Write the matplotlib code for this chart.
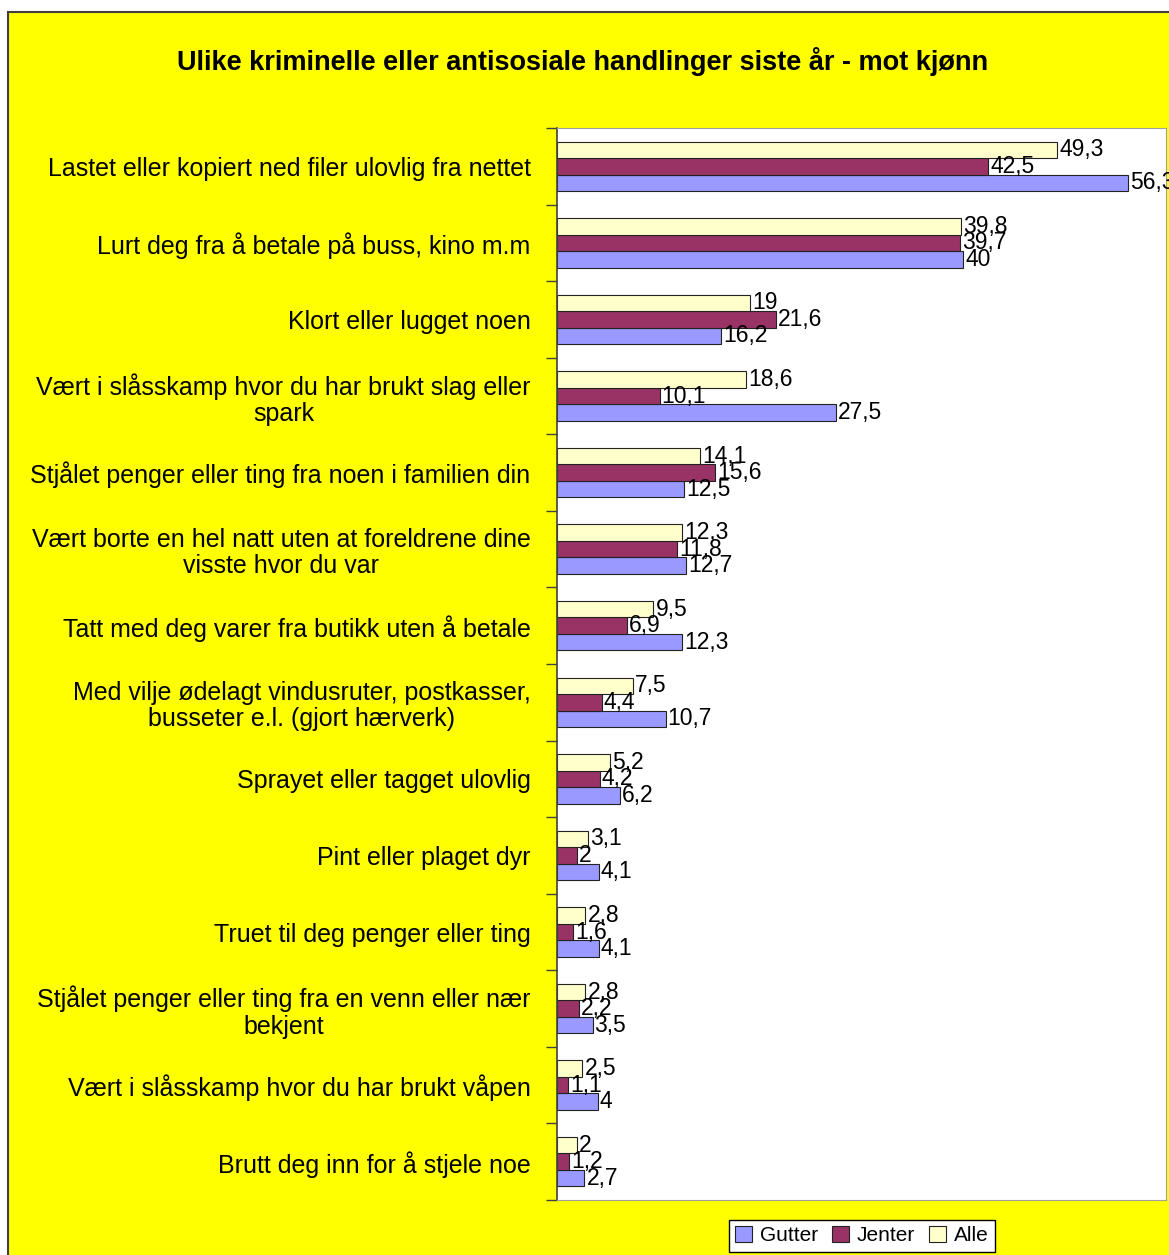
import numpy as np
import matplotlib
matplotlib.use('Agg')
import matplotlib.pyplot as plt
from matplotlib.patches import Rectangle

plt.rcParams['font.family'] = ['Liberation Sans', 'DejaVu Sans']

#Data
categories = [
    'Lastet eller kopiert ned filer ulovlig fra nettet',
    'Lurt deg fra å betale på buss, kino m.m',
    'Klort eller lugget noen',
    'Vært i slåsskamp hvor du har brukt slag eller\nspark',
    'Stjålet penger eller ting fra noen i familien din',
    'Vært borte en hel natt uten at foreldrene dine\nvisste hvor du var',
    'Tatt med deg varer fra butikk uten å betale',
    'Med vilje ødelagt vindusruter, postkasser,\nbusseter e.l. (gjort hærverk)',
    'Sprayet eller tagget ulovlig',
    'Pint eller plaget dyr',
    'Truet til deg penger eller ting',
    'Stjålet penger eller ting fra en venn eller nær\nbekjent',
    'Vært i slåsskamp hvor du har brukt våpen',
    'Brutt deg inn for å stjele noe',
]
gutter = [56.3, 40, 16.2, 27.5, 12.5, 12.7, 12.3, 10.7, 6.2, 4.1, 4.1, 3.5, 4, 2.7]
jenter = [42.5, 39.7, 21.6, 10.1, 15.6, 11.8, 6.9, 4.4, 4.2, 2, 1.6, 2.2, 1.1, 1.2]
alle = [49.3, 39.8, 19, 18.6, 14.1, 12.3, 9.5, 7.5, 5.2, 3.1, 2.8, 2.8, 2.5, 2]
series_names = ['Gutter', 'Jenter', 'Alle']
colors = ['#9999FF', '#993366', '#FFFFCC']

W, H = 1169, 1255
fig = plt.figure(figsize=(W/100, H/100), dpi=100)
fig.patch.set_facecolor('white')

#yellow chart area with border
bg = Rectangle((8/W, -0.01), 1.0, (H-12)/H + 0.01, transform=fig.transFigure,
               facecolor='#FFFF00', edgecolor='#404040', lw=1.5, zorder=-10)
fig.add_artist(bg)

ax = fig.add_axes([557/W, 55/H, (1166-557)/W, (1200-128)/H])
ax.set_facecolor('white')

y = np.arange(len(categories))
h = 0.215
offsets = [h, 0, -h]
for vals, name, col, off in zip([gutter, jenter, alle], series_names, colors, offsets):
    ax.barh(y + off, vals, height=h, color=col, edgecolor='#222222', lw=0.8, label=name)
    for yi, v in zip(y, vals):
        ax.text(v + 0.2, yi + off, ('%g' % v).replace('.', ','), va='center', ha='left',
                fontsize=16.5, clip_on=False)

ax.set_xlim(0, 60)
ax.set_ylim(len(categories) - 0.5, -0.5)
ax.set_xticks([])
ax.set_yticks(y)
ax.set_yticklabels(categories, fontsize=18, multialignment='center', linespacing=1.12)
ax.tick_params(axis='y', which='major', length=0, pad=19)
ax.set_yticks(np.arange(len(categories) + 1) - 0.5, minor=True)
ax.tick_params(axis='y', which='minor', length=8, width=1, color='#404040', direction='out')

for s in ['top', 'right', 'bottom']:
    ax.spines[s].set_color('#A0A0A0')
ax.spines['left'].set_color('#404040')
ax.spines['left'].set_linewidth(1.2)

fig.text(583/W, 1 - 62/H, 'Ulike kriminelle eller antisosiale handlinger siste år - mot kjønn',
         ha='center', va='center', fontsize=19.5, fontweight='bold')

leg = fig.legend(loc='upper center', bbox_to_anchor=(862/W, 1 - 1220/H), ncol=3, fontsize=15,
                 frameon=True, fancybox=False, edgecolor='black', facecolor='white', framealpha=1,
                 handlelength=0.8, handleheight=0.8, handletextpad=0.4, columnspacing=0.65,
                 borderpad=0.3, borderaxespad=0)
leg.get_frame().set_linewidth(1.0)

plt.savefig('out.png', dpi=100, facecolor=fig.get_facecolor())
